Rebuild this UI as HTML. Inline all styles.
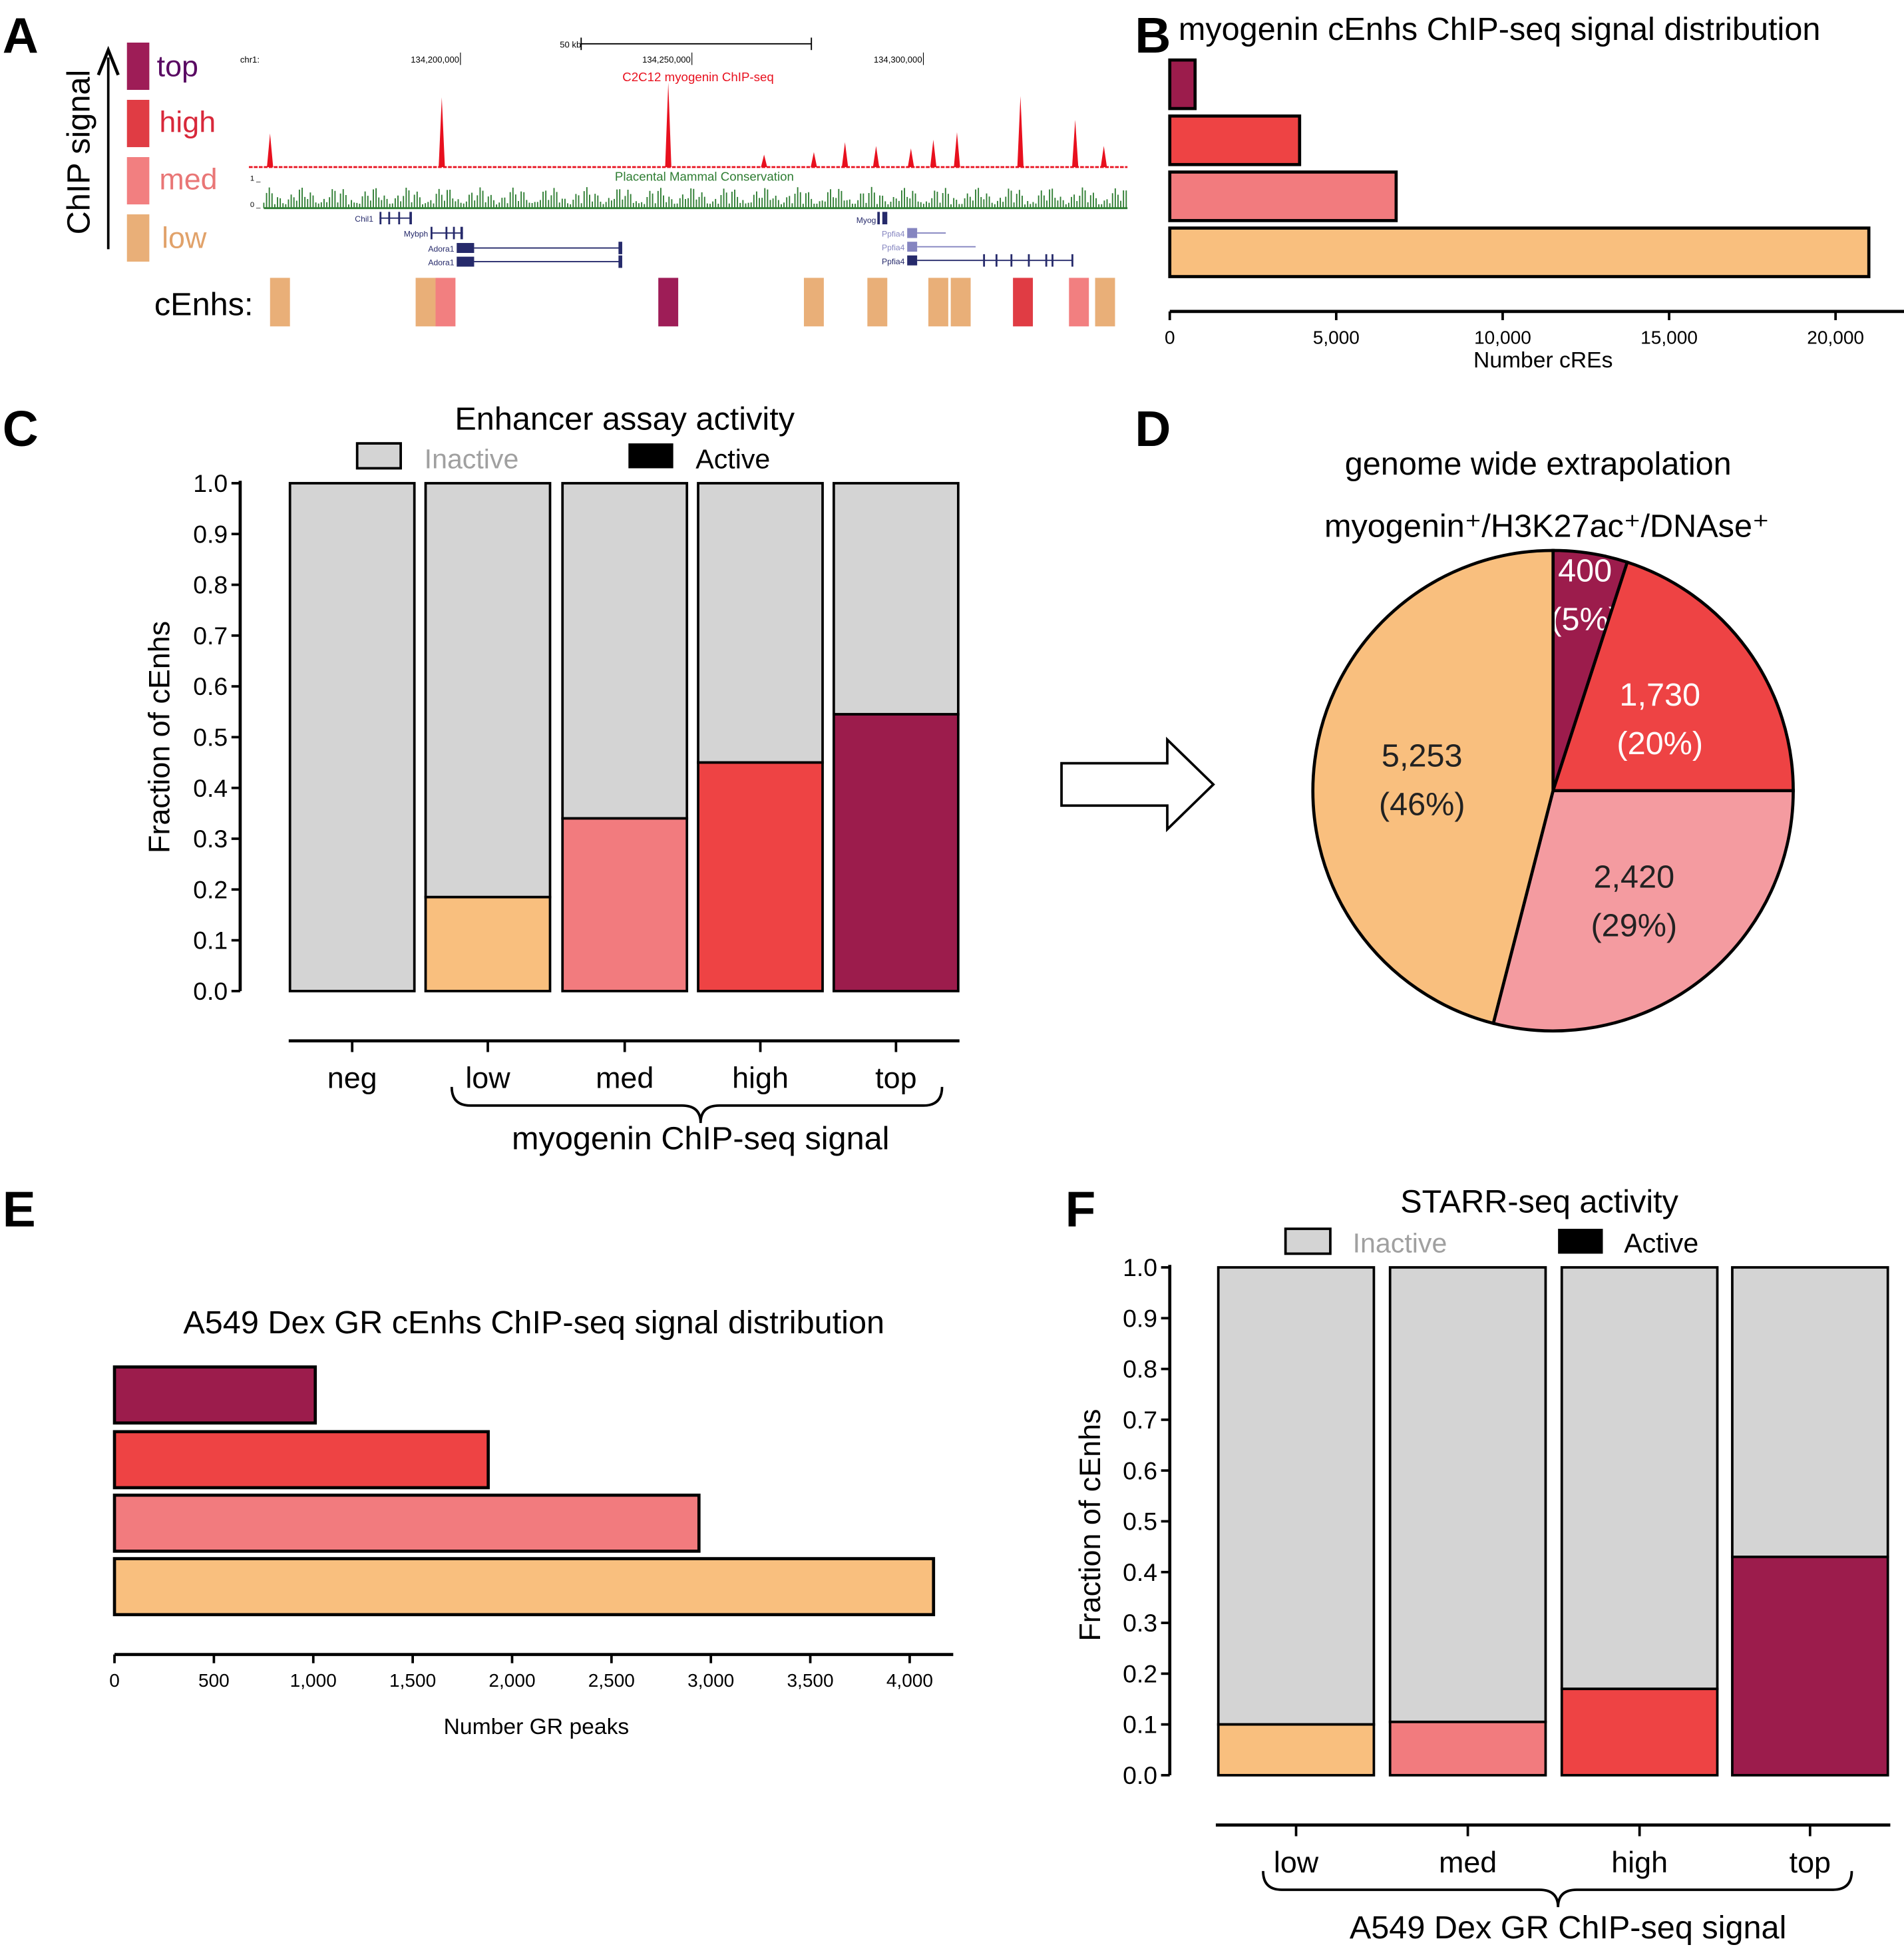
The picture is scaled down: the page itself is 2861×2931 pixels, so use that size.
<!DOCTYPE html>
<html><head><meta charset="utf-8"><style>
html,body{margin:0;padding:0;background:#fff}
svg{display:block}
text{font-family:"Liberation Sans",sans-serif}
</style></head><body>
<svg id="fig" width="2861" height="2931" viewBox="0 0 1530 1567" xmlns="http://www.w3.org/2000/svg">
<!-- Panel letters -->
<g font-weight="bold" font-size="40">
<text x="2" y="42">A</text>
<text x="912" y="42">B</text>
<text x="2" y="358">C</text>
<text x="912" y="358">D</text>
<text x="2" y="985">E</text>
<text x="856" y="985">F</text>
</g>

<!-- Panel A -->
<g id="panelA">
<rect x="102" y="34" width="18" height="38" fill="#9e1d57"/>
<rect x="102" y="80" width="18" height="38" fill="#e03c44"/>
<rect x="102" y="126" width="18" height="38" fill="#f27f80"/>
<rect x="102" y="172" width="18" height="38" fill="#e9af78"/>
<text x="126" y="61" font-size="24" fill="#5a0b63">top</text>
<text x="128" y="106" font-size="24" fill="#d8283a">high</text>
<text x="128" y="152" font-size="24" fill="#e97676">med</text>
<text x="130" y="199" font-size="24" fill="#e1a26a">low</text>
<line x1="87" y1="200" x2="87" y2="46" stroke="#000" stroke-width="2"/>
<path d="M79,60 L87,40 L95,60" fill="none" stroke="#000" stroke-width="2.5"/>
<text transform="translate(72,122) rotate(-90)" font-size="26" text-anchor="middle">ChIP signal</text>
<text x="193" y="50" font-size="7">chr1:</text>
<text x="467" y="38" font-size="7" text-anchor="end">50 kb</text>
<line x1="467" y1="35" x2="652" y2="35" stroke="#000" stroke-width="1"/>
<line x1="467" y1="30" x2="467" y2="40" stroke="#000"/><line x1="652" y1="30" x2="652" y2="40" stroke="#000"/>
<text x="369" y="50" font-size="7" text-anchor="end">134,200,000</text><line x1="370" y1="42" x2="370" y2="52" stroke="#000" stroke-width="0.6"/>
<text x="555" y="50" font-size="7" text-anchor="end">134,250,000</text><line x1="556" y1="42" x2="556" y2="52" stroke="#000" stroke-width="0.6"/>
<text x="741" y="50" font-size="7" text-anchor="end">134,300,000</text><line x1="742" y1="42" x2="742" y2="52" stroke="#000" stroke-width="0.6"/>
<text x="561" y="65" font-size="10" fill="#e8101e" text-anchor="middle">C2C12 myogenin ChIP-seq</text>
<g id="chipTrack"></g>
<text x="566" y="145" font-size="10" fill="#2e7d32" text-anchor="middle">Placental Mammal Conservation</text>
<text x="201" y="145" font-size="6">1 _</text><text x="201" y="166" font-size="6">0 _</text>
<g id="consTrack"></g>
<g fill="#262a6b" font-size="6.5">
<text x="300" y="178" text-anchor="end">Chil1</text><line x1="305" y1="175" x2="331" y2="175" stroke="#262a6b"/><rect x="305" y="170" width="1.5" height="10"/><rect x="312" y="170" width="1.5" height="10"/><rect x="320" y="170" width="1.5" height="10"/><rect x="329" y="170" width="2" height="10"/>
<text x="344" y="190" text-anchor="end">Mybph</text><line x1="346" y1="187" x2="372" y2="187" stroke="#262a6b"/><rect x="346" y="182" width="1.5" height="10"/><rect x="358" y="182" width="1.5" height="10"/><rect x="364" y="182" width="1.5" height="10"/><rect x="370" y="182" width="2" height="10"/>
<text x="365" y="202" text-anchor="end">Adora1</text><rect x="367" y="195" width="14" height="8"/><line x1="381" y1="199" x2="499" y2="199" stroke="#262a6b"/><rect x="497" y="194" width="3" height="10"/>
<text x="365" y="213" text-anchor="end">Adora1</text><rect x="367" y="206" width="14" height="8"/><line x1="381" y1="210" x2="499" y2="210" stroke="#262a6b"/><rect x="497" y="205" width="3" height="10"/>
<text x="704" y="179" text-anchor="end">Myog</text><rect x="705" y="170" width="2" height="10"/><rect x="709" y="170" width="4" height="10"/>
<g fill="#8585c0"><text x="727" y="190" text-anchor="end">Ppfia4</text><rect x="729" y="183" width="8" height="8"/><line x1="737" y1="187" x2="760" y2="187" stroke="#8585c0"/>
<text x="727" y="201" text-anchor="end">Ppfia4</text><rect x="729" y="194" width="8" height="8"/><line x1="737" y1="198" x2="784" y2="198" stroke="#8585c0"/></g>
<text x="727" y="212" text-anchor="end">Ppfia4</text><rect x="729" y="205" width="8" height="8"/><line x1="737" y1="209" x2="862" y2="209" stroke="#262a6b"/>
<rect x="790" y="204" width="1.5" height="10"/><rect x="800" y="204" width="1.5" height="10"/><rect x="812" y="204" width="1.5" height="10"/><rect x="826" y="204" width="1.5" height="10"/><rect x="840" y="204" width="1.5" height="10"/><rect x="845" y="204" width="1.5" height="10"/><rect x="861" y="204" width="1.5" height="10"/>
</g>
<text x="124" y="253" font-size="26">cEnhs:</text>
<g id="cenhTrack"></g>
</g>

<!-- Panel B -->
<g id="panelB">
<text x="947" y="32" font-size="26">myogenin cEnhs ChIP-seq signal distribution</text>
<text x="1240" y="295" font-size="18" text-anchor="middle">Number cREs</text>
</g>

<!-- Panel C -->
<g id="panelC">
<text x="502" y="345" font-size="26" text-anchor="middle">Enhancer assay activity</text>
<rect x="287" y="356" width="35" height="20" fill="#d4d4d4" stroke="#000" stroke-width="2"/>
<text x="341" y="376" font-size="22" fill="#a0a0a0">Inactive</text>
<rect x="505" y="356" width="36" height="20" fill="#000"/>
<text x="559" y="376" font-size="22">Active</text>
<text transform="translate(136,592) rotate(-90)" font-size="24" text-anchor="middle">Fraction of cEnhs</text>
<path d="M363,873 Q363,888 378,888 L548,888 Q563,888 563,902 Q563,888 578,888 L742,888 Q757,888 757,873" fill="none" stroke="#000" stroke-width="2"/>
<text x="563" y="923" font-size="26" text-anchor="middle">myogenin ChIP-seq signal</text>
</g>

<!-- Arrow -->
<path d="M853,613 L938,613 L938,594 L975,630 L938,666 L938,647 L853,647 Z" fill="#fff" stroke="#000" stroke-width="2"/>

<!-- Panel D -->
<g id="panelD">
<text x="1236" y="381" font-size="26" text-anchor="middle">genome wide extrapolation</text>
<text x="1243" y="431" font-size="26" text-anchor="middle">myogenin⁺/H3K27ac⁺/DNAse⁺</text>
</g>

<!-- Panel E -->
<g id="panelE">
<text x="429" y="1071" font-size="26" text-anchor="middle">A549 Dex GR cEnhs ChIP-seq signal distribution</text>
<text x="431" y="1393" font-size="18" text-anchor="middle">Number GR peaks</text>
</g>

<!-- Panel F -->
<g id="panelF">
<text x="1237" y="974" font-size="26" text-anchor="middle">STARR-seq activity</text>
<rect x="1033" y="987" width="36" height="20" fill="#d4d4d4" stroke="#000" stroke-width="2"/>
<text x="1087" y="1006" font-size="22" fill="#a0a0a0">Inactive</text>
<rect x="1252" y="987" width="36" height="20" fill="#000"/>
<text x="1305" y="1006" font-size="22">Active</text>
<text transform="translate(884,1225) rotate(-90)" font-size="24" text-anchor="middle">Fraction of cEnhs</text>
<path d="M1015,1503 Q1015,1518 1030,1518 L1237,1518 Q1252,1518 1252,1532 Q1252,1518 1267,1518 L1473,1518 Q1488,1518 1488,1503" fill="none" stroke="#000" stroke-width="2"/>
<text x="1260" y="1557" font-size="26" text-anchor="middle">A549 Dex GR ChIP-seq signal</text>
</g>
</svg>
<script>
// ---- data ----
const chipPeakPos = [217,355,537,679,704,750,769,820,864,887,614,654,732];
const chipPeakHeight = [27,56,68,20,17,22,28,57,38,17,10,12,15];
const cenhPos = [217,334,350,529,646,697,746,764,814,859,880];
const cenhClass = ['low','low','med','top','low','low','low','low','high','med','low'];
const bCategories = ['top','high','med','low'];
const bValues = [760,3900,6800,21000];
const bTicks = [0,5000,10000,15000,20000];
const bTickLabels = ['0','5,000','10,000','15,000','20,000'];
const cCategories = ['neg','low','med','high','top'];
const cActive = [0,0.185,0.34,0.45,0.545];
const yTicks = [0,0.1,0.2,0.3,0.4,0.5,0.6,0.7,0.8,0.9,1.0];
const pieCategories = ['top','high','med','low'];
const pieValues = [400,1730,2420,5253];
const piePct = [5,20,29,46];
const pieValueLabels = ['400','1,730','2,420','5,253'];
const eCategories = ['top','high','med','low'];
const eValues = [1010,1880,2940,4120];
const eTicks = [0,500,1000,1500,2000,2500,3000,3500,4000];
const eTickLabels = ['0','500','1,000','1,500','2,000','2,500','3,000','3,500','4,000'];
const fCategories = ['low','med','high','top'];
const fActive = [0.1,0.105,0.17,0.43];

const NS='http://www.w3.org/2000/svg';
const colors={top:'#9c1c4c',high:'#ee4344',med:'#f27b7e',low:'#f9bf7e',neg:'#d4d4d4'};
const cenhColors={top:'#9e1d57',high:'#e03c44',med:'#f27f80',low:'#e9af78'};
const pieColors={top:'#9c1c4c',high:'#ee4344',med:'#f49ba0',low:'#f9bf7e'};
function mk(tag,attrs,parent){const e=document.createElementNS(NS,tag);for(const k in attrs)e.setAttribute(k,attrs[k]);parent.appendChild(e);return e;}

// Panel A tracks
const chipG=document.getElementById('chipTrack');
const chipBase=134;
mk('line',{x1:200,y1:chipBase,x2:906,y2:chipBase,stroke:'#e8101e','stroke-width':1.5,'stroke-dasharray':'3,1'},chipG);
chipPeakPos.forEach((x,i)=>{
  const p=mk('path',{d:`M${x-2.5},${chipBase} L${x},${chipBase-chipPeakHeight[i]} L${x+2.5},${chipBase} Z`,fill:'#e8101e'},chipG);
  
  
});
const consG=document.getElementById('consTrack');
let d='';
for(let x=212;x<906;x+=2.2){const h=3+Math.abs(Math.sin(x*0.37)*Math.sin(x*0.11))*14;d+=`M${x.toFixed(1)},167 V${(167-h).toFixed(1)} `;}
mk('path',{d:d,stroke:'#2e7d32','stroke-width':1,fill:'none'},consG);
mk('line',{x1:212,y1:167,x2:906,y2:167,stroke:'#2e7d32','stroke-width':1.5},consG);
const cenhG=document.getElementById('cenhTrack');
cenhPos.forEach((x,i)=>{
  const r=mk('rect',{x:x,y:223,width:16,height:39,fill:cenhColors[cenhClass[i]]},cenhG);
  
  
});

// horizontal bar chart helper
function hbar(g,cats,vals,ticks,labels,x0,scale,ys,bh,axisY,axisX1,axisX2,fs){
  cats.forEach((c,i)=>{
    const r=mk('rect',{x:x0,y:ys[i],width:vals[i]*scale,height:bh,fill:colors[c],stroke:'#000','stroke-width':2.5},g);
    
    
  });
  mk('line',{x1:axisX1,y1:axisY,x2:axisX2,y2:axisY,stroke:'#000','stroke-width':2.5},g);
  ticks.forEach((t,i)=>{
    const x=x0+t*scale;
    mk('line',{x1:x,y1:axisY,x2:x,y2:axisY+7,stroke:'#000','stroke-width':2},g);
    const tx=mk('text',{x:x,y:axisY+26,'font-size':fs,'text-anchor':'middle'},g);
    tx.textContent=labels[i];
    
    
  });
}
hbar(document.getElementById('panelB'),bCategories,bValues,bTicks,bTickLabels,940,535/20000,[48,93,138,183],39,250,940,1530,15);
hbar(document.getElementById('panelE'),eCategories,eValues,eTicks,eTickLabels,92,639/4000,[1098,1150,1201,1252],45,1329,92,766,15);

// stacked bar helper
function stacked(g,cats,act,xs,bw,axX,y0,h,baseY,baseX1,baseX2){
  const sy=v=>y0-v*h;
  mk('line',{x1:axX,y1:sy(1)-2,x2:axX,y2:y0,stroke:'#000','stroke-width':2.5},g);
  yTicks.forEach(t=>{
    mk('line',{x1:axX-7,y1:sy(t),x2:axX,y2:sy(t),stroke:'#000','stroke-width':2},g);
    const tx=mk('text',{x:axX-10,y:sy(t)+7,'font-size':20,'text-anchor':'end'},g);
    tx.textContent=t.toFixed(1);
    
    
  });
  mk('line',{x1:baseX1,y1:baseY,x2:baseX2,y2:baseY,stroke:'#000','stroke-width':2.5},g);
  cats.forEach((c,i)=>{
    const x=xs[i];
    const r1=mk('rect',{x:x,y:sy(1),width:bw,height:(1-act[i])*h,fill:'#d4d4d4',stroke:'#000','stroke-width':2},g);
    
    
    if(act[i]>0){
      const r2=mk('rect',{x:x,y:sy(act[i]),width:bw,height:act[i]*h,fill:colors[c],stroke:'#000','stroke-width':2},g);
      
      
    }
    const cx=x+bw/2;
    mk('line',{x1:cx,y1:baseY,x2:cx,y2:baseY+9,stroke:'#000','stroke-width':2},g);
    const tx=mk('text',{x:cx,y:baseY+38,'font-size':24,'text-anchor':'middle'},g);
    tx.textContent=c;
    
    
  });
}
stacked(document.getElementById('panelC'),cCategories,cActive,[233,342,452,561,670],100,193,796,408,836,232,771);
stacked(document.getElementById('panelF'),fCategories,fActive,[979,1117,1255,1392],125,940,1426,408,1466,977,1519);

// pie
const pg=document.getElementById('panelD');
const cx=1248,cy=635,R=193;
const tot=piePct.reduce((a,b)=>a+b,0);
let a0=0;
const labelPos=[[0.87,0.13],[0.6,0.3],[0.55,0.58],[0.55,0.82]];
pieCategories.forEach((c,i)=>{
  const a1=a0+piePct[i]/tot*2*Math.PI;
  const x0=cx+R*Math.sin(a0),y0=cy-R*Math.cos(a0),x1=cx+R*Math.sin(a1),y1=cy-R*Math.cos(a1);
  const large=(a1-a0)>Math.PI?1:0;
  const p=mk('path',{d:`M${cx},${cy} L${x0},${y0} A${R},${R} 0 ${large} 1 ${x1},${y1} Z`,fill:pieColors[c],stroke:'#000','stroke-width':2.5},pg);
  
  
  const am=(a0+a1)/2;
  const rr=R*(i===0?0.85:0.55);
  const lx=cx+rr*Math.sin(am)+(i===0?0:0), ly=cy-rr*Math.cos(am);
  const fill=(c==='top'||c==='high')?'#fff':'#222';
  const t1=mk('text',{x:lx,y:ly-6,'font-size':26,'text-anchor':'middle',fill:fill},pg);
  t1.textContent=pieValueLabels[i];
  
  
  const t2=mk('text',{x:lx,y:ly+33,'font-size':26,'text-anchor':'middle',fill:fill},pg);
  t2.textContent='('+piePct[i]+'%)';
  
  
  a0=a1;
});
</script>
</body></html>
